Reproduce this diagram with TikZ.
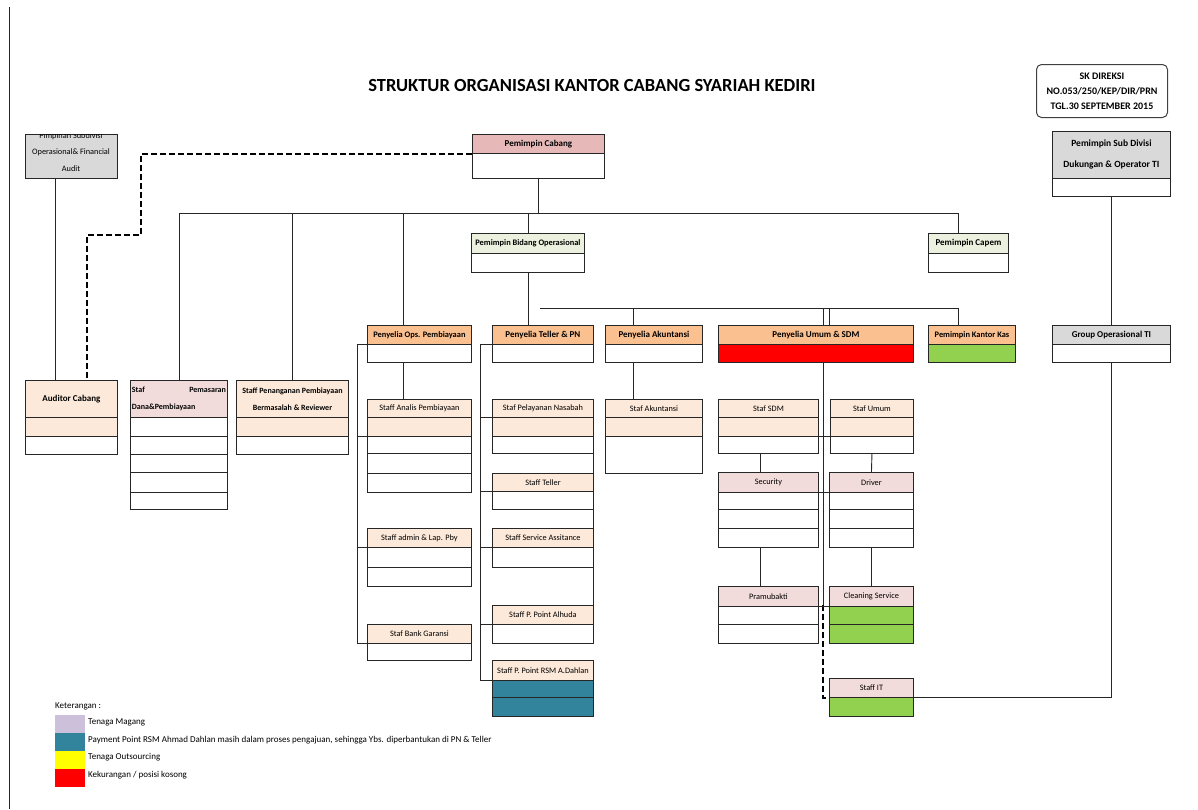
\documentclass[tikz,border=0pt]{standalone}
\usepackage{fontspec}
\setmainfont{Carlito}
\usetikzlibrary{calc}
\definecolor{cPink}{HTML}{E6B9B8}
\definecolor{cGray}{HTML}{D9D9D9}
\definecolor{cLG}{HTML}{EBF1DE}
\definecolor{cOr}{HTML}{FAC090}
\definecolor{cPeach}{HTML}{FDE9D9}
\definecolor{cLPink}{HTML}{F2DCDB}
\definecolor{cRed}{HTML}{FF0000}
\definecolor{cGreen}{HTML}{92D050}
\definecolor{cTeal}{HTML}{31849B}
\definecolor{cLav}{HTML}{CCC0DA}
\definecolor{cYel}{HTML}{FFFF00}
\tikzset{
  box/.style={draw=black!85, line width=0.9pt, anchor=north west, inner sep=0pt, align=center, font=\fontsize{8.3}{9}\selectfont},
  hb/.style={font=\bfseries\fontsize{9}{10}\selectfont},
  hbs/.style={font=\bfseries\fontsize{8.4}{10}\selectfont},
  hbtwo/.style={font=\bfseries\fontsize{8}{17}\selectfont},
  conn/.style={draw=black!85, line width=0.9pt},
  dconn/.style={draw=black, line width=2pt, dash pattern=on 6pt off 3pt},
  legtext/.style={anchor=west, inner sep=0pt, font=\fontsize{9}{10}\selectfont},
  legsq/.style={anchor=north west, inner sep=0pt, minimum width=30pt, minimum height=18pt},
}
\newcommand\obox[9][]{%
  \pgfmathsetmacro\bw{#4-#3}\pgfmathsetmacro\bh{#6-#5}%
  \node[box, fill=#7, minimum width=\bw pt, minimum height=\bh pt, #1] (#2) at (#3,#5) {#8};%
  \foreach \b/\c [remember=\b as \a (initially #6)] in {#9} {\draw[conn, fill=\c] (#3,\a) rectangle (#4,\b);}%
}
\begin{document}
\begin{tikzpicture}[x=1pt,y=-1pt]
\useasboundingbox (0,0) rectangle (1198,809);
\fill[white] (0,0) rectangle (1198,809);
\draw[line width=1pt, black!85] (9,7) -- (9,809);

\node[font=\bfseries\fontsize{18.5}{22}\selectfont] (title) at (592,85) {STRUKTUR ORGANISASI KANTOR CABANG SYARIAH KEDIRI};
\node[draw=black!75, rounded corners=5pt, line width=1pt, minimum width=131pt, minimum height=53pt, align=center, inner sep=0pt, font=\bfseries\fontsize{10}{15}\selectfont] (sk) at (1102,91) {SK DIREKSI\\NO.053/250/KEP/DIR/PRN\\TGL.30 SEPTEMBER 2015};

% top level
\node[box, fill=cGray, minimum width=92pt, minimum height=44pt] (psa) at (25,134) {};
\begin{scope}
  \clip (25,134) rectangle (117,178);
  \node[align=center, inner sep=0pt, font=\fontsize{8.3}{16.5}\selectfont] (psat) at (71,152) {Pimpinan Subdivisi\\Operasional\& Financial\\Audit};
\end{scope}
\obox[hb]{pc}{472}{604}{134}{153}{cPink}{Pemimpin Cabang}{178/white}
\obox[font=\bfseries\fontsize{9.5}{21}\selectfont]{psd}{1052}{1170}{131}{178}{cGray}{Pemimpin Sub Divisi\\Dukungan \& Operator TI}{196/white}
\obox[hbs]{pbo}{471}{584}{233}{253}{cLG}{Pemimpin Bidang Operasional}{272/white}
\obox[hb]{capem}{928}{1008}{233}{253}{cLG}{Pemimpin Capem}{272/white}

% penyelia row
\obox[hbs]{ops}{367}{471}{325}{344}{cOr}{Penyelia Ops. Pembiayaan}{362/white}
\obox[hb]{tel}{492}{593}{325}{344}{cOr}{Penyelia Teller \& PN}{362/white}
\obox[hb]{akt}{605}{702}{325}{344}{cOr}{Penyelia Akuntansi}{362/white}
\obox[hb]{umum}{718}{913}{325}{344}{cOr}{Penyelia Umum \& SDM}{362/cRed}
\obox[hbs]{kas}{928}{1015}{325}{344}{cOr}{Pemimpin Kantor Kas}{362/cGreen}
\obox[hb]{goti}{1052}{1170}{325}{344}{cGray}{Group Operasional TI}{362/white}

% left staff
\obox[hb]{aud}{25}{117}{380}{417}{cPeach}{Auditor Cabang}{436/cPeach,454/white}
\obox[hbtwo]{pem}{130}{227}{380}{417}{cLPink}{\parbox{94pt}{Staf\hfill Pemasaran\\Dana\&Pembiayaan}}{436/white,454/white,472/white,492/white,509/white}
\obox[hbtwo]{pen}{236}{348}{380}{417}{cPeach}{Staff Penanganan Pembiayaan\\Bermasalah \& Reviewer}{436/cPeach,454/white}

% ops column
\obox{ana}{367}{471}{399}{417}{cPeach}{Staff Analis Pembiayaan}{436/cPeach,453/white,473/white,492/white}
\obox{adm}{367}{471}{528}{547}{cPeach}{Staff admin \& Lap. Pby}{567/white,586/white}
\obox{bg}{367}{471}{624}{643}{cPeach}{Staf Bank Garansi}{660/white}

% teller column
\obox{pn}{492}{593}{399}{417}{cPeach}{Staf Pelayanan Nasabah}{436/cPeach,453/white}
\obox{stl}{492}{593}{473}{491}{cPeach}{Staff Teller}{509/white}
\obox{ssa}{492}{593}{528}{547}{cPeach}{Staff Service Assitance}{567/white}
\obox{alh}{492}{593}{605}{624}{cPeach}{Staff P. Point Alhuda}{643/white}
\obox{rsm}{492}{593}{660}{680}{cPeach}{Staff P. Point RSM A.Dahlan}{697/cTeal,716/cTeal}

% akuntansi
\obox{sakt}{605}{702}{399}{417}{cPeach}{Staf Akuntansi}{436/cPeach,473/white}

% umum & sdm
\obox{sdm}{718}{818}{399}{417}{cPeach}{Staf SDM}{436/cPeach,453/white}
\obox{sum}{830}{913}{399}{417}{cPeach}{Staf Umum}{436/cPeach,453/white}
\obox{sec}{718}{818}{472}{492}{cLPink}{Security}{509/white,528/white,547/white}
\obox{drv}{829}{913}{472}{492}{cLPink}{Driver}{509/white,528/white,547/white}
\obox{pram}{718}{818}{586}{606}{cLPink}{Pramubakti}{624/white,643/white}
\obox{cln}{829}{913}{586}{606}{cLPink}{Cleaning Service}{624/cGreen,643/cGreen}
\obox{sit}{829}{913}{678}{697}{cLPink}{Staff IT}{716/cGreen}

% ---------- connectors ----------
\coordinate (bus) at (540,213);
\coordinate (bustwo) at (540,308);
\coordinate (d1) at (141,235);
\coordinate (ob) at (357,0);
\coordinate (tb) at (480,0);
\coordinate (ub) at (823,0);

\draw[conn] ([yshift=-25pt]pc.south) -- (pc.south |- bus);
\draw[conn] (pem.north |- bus) -- ([xshift=30pt]capem.north west |- bus);
\draw[conn] (pem.north |- bus) -- (pem.north);
\draw[conn] (pen.north |- bus) -- (pen.north);
\draw[conn] ([xshift=36pt]ops.north west |- bus) -- ([xshift=36pt]ops.north west);
\draw[conn] (pbo.north |- bus) -- (pbo.north);
\draw[conn] ([xshift=30pt]capem.north west |- bus) -- ([xshift=30pt]capem.north west);

\draw[conn] ([xshift=30pt]psa.south west) -- ([xshift=30pt]aud.north west);
\draw[dconn] (pc.south west) -| (d1) -| ([xshift=62pt]aud.north west);

\draw[conn] ([yshift=-19pt]pbo.south) -- (pbo.south |- tel.north);
\draw[conn] (bustwo) -- ([xshift=30pt]kas.north west |- bustwo);
\draw[conn] ([xshift=28pt]akt.north west |- bustwo) -- ([xshift=28pt]akt.north west);
\draw[conn] ([xshift=105pt]umum.north west |- bustwo) -- ([xshift=105pt]umum.north west);
\draw[conn] ([xshift=111pt]umum.north west |- bustwo) -- ([xshift=111pt]umum.north west);
\draw[conn] ([xshift=30pt]kas.north west |- bustwo) -- ([xshift=30pt]kas.north west);

\draw[conn] ([yshift=-18pt]psd.south) -- (goti.north);
\draw[conn] ([yshift=-18pt]goti.south) |- (sit.south east);

% ops bracket
\draw[conn] ([xshift=36pt,yshift=-18pt]ops.south west) -- ([xshift=36pt]ana.north west);
\draw[conn] (ops.south west) -| (ob |- bg.south west) -- (bg.south west);
\draw[conn] ([yshift=-19pt]ana.south west -| ob) -- ([yshift=-19pt]ana.south west);
\draw[conn] (ob |- adm.south west) -- (adm.south west);

% teller bracket
\draw[conn] (tel.south west) -| (tb |- rsm.south west) -- (rsm.south west);
\foreach \n in {pn,stl,ssa,alh} \draw[conn] (tb |- \n.south west) -- (\n.south west);
\draw[conn] (pn.north east) -- (alh.south east |- 0,643);

% akuntansi
\draw[conn] ([xshift=28pt,yshift=-18pt]akt.south west) -- ([xshift=28pt]sakt.north west);

% umum
\draw[conn] ([xshift=105pt,yshift=-18pt]umum.south west) -- (ub |- 0,605);
\draw[dconn] (ub |- 0,605) -- (ub |- sit.south west) -- (sit.south west);
\draw[conn] ([yshift=-19pt]sdm.south east) -- ([yshift=-19pt]sum.south west);
\draw[conn] (sec.south east) -- (drv.south west);
\draw[conn] (pram.south east) -- (cln.south west);
\draw[conn] ([xshift=42pt,yshift=-36pt]sdm.south west) -- ([xshift=42pt]sec.north west);
\draw[conn] ([xshift=42pt,yshift=-55pt]sec.south west) -- ([xshift=42pt]pram.north west);
\draw[conn] ([yshift=-36pt]sum.south) -- (drv.north);
\draw[conn] ([yshift=-55pt]drv.south) -- (cln.north);

% ---------- legend ----------
\node[legtext] (ket) at (55,706) {Keterangan :};
\node[legsq, fill=cLav] (l1) at (55,715) {};
\node[legsq, fill=cTeal] (l2) at (55,733) {};
\node[legsq, fill=cYel] (l3) at (55,751) {};
\node[legsq, fill=cRed] (l4) at (55,769) {};
\node[legtext] (t1) at (88,722) {Tenaga Magang};
\node[legtext] (t2) at (88,740) {Payment Point RSM Ahmad Dahlan masih dalam proses pengajuan, sehingga Ybs. diperbantukan di PN \& Teller};
\node[legtext] (t3) at (88,757) {Tenaga Outsourcing};
\node[legtext] (t4) at (88,775) {Kekurangan / posisi kosong};
\end{tikzpicture}
\end{document}
